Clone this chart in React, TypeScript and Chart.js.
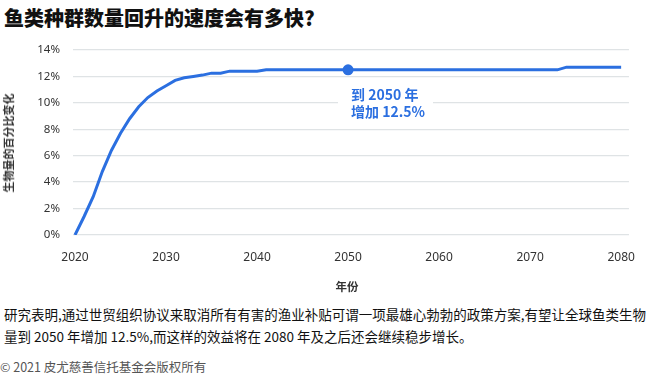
import React, { useEffect, useRef } from "react";
import { Chart, registerables } from "chart.js";

Chart.register(...registerables);

// ---- data ----
const years = [
  2020, 2021, 2022, 2023, 2024, 2025, 2026, 2027, 2028, 2029, 2030,
  2031, 2032, 2033, 2034, 2035, 2036, 2037, 2038, 2039, 2040,
  2041, 2042, 2043, 2044, 2045, 2046, 2047, 2048, 2049, 2050,
  2051, 2052, 2053, 2054, 2055, 2056, 2057, 2058, 2059, 2060,
  2061, 2062, 2063, 2064, 2065, 2066, 2067, 2068, 2069, 2070,
  2071, 2072, 2073, 2074, 2075, 2076, 2077, 2078, 2079, 2080,
];
const biomassChange = [
  0, 1.4, 2.9, 4.8, 6.4, 7.7, 8.8, 9.7, 10.4, 10.9, 11.3,
  11.7, 11.9, 12.0, 12.1, 12.25, 12.25, 12.4, 12.4, 12.4, 12.4,
  12.5, 12.5, 12.5, 12.5, 12.5, 12.5, 12.5, 12.5, 12.5, 12.5,
  12.5, 12.5, 12.5, 12.5, 12.5, 12.5, 12.5, 12.5, 12.5, 12.5,
  12.5, 12.5, 12.5, 12.5, 12.5, 12.5, 12.5, 12.5, 12.5, 12.5,
  12.5, 12.5, 12.5, 12.7, 12.7, 12.7, 12.7, 12.7, 12.7, 12.7,
];
const highlightYear = [2050];
const highlightValue = [12.5];
const xTickValues = [2020, 2030, 2040, 2050, 2060, 2070, 2080];
const yTickValues = [0, 2, 4, 6, 8, 10, 12, 14];

const title = "鱼类种群数量回升的速度会有多快?";
const yTitle = "生物量的百分比变化";
const xTitle = "年份";
const annotationLines = ["到 2050 年", "增加 12.5%"];
const noteLines = [
  "研究表明,通过世贸组织协议来取消所有有害的渔业补贴可谓一项最雄心勃勃的政策方案,有望让全球鱼类生物",
  "量到 2050 年增加 12.5%,而这样的效益将在 2080 年及之后还会继续稳步增长。",
];
const copyright = "© 2021 皮尤慈善信托基金会版权所有";

const BLUE = "#2b6fe0";
const CJK = "'Noto Sans CJK SC', 'Noto Sans', sans-serif";

export default function App() {
  const ref = useRef<HTMLCanvasElement | null>(null);

  useEffect(() => {
    if (!ref.current) return;
    Chart.defaults.font.family = "'Noto Sans', sans-serif";
    const chart = new Chart(ref.current, {
      type: "line",
      data: {
        datasets: [
          {
            data: years.map((y, i) => ({ x: y, y: biomassChange[i] })),
            borderColor: BLUE,
            borderWidth: 3,
            pointRadius: 0,
            tension: 0,
            fill: false,
          },
          {
            data: highlightYear.map((y, i) => ({ x: y, y: highlightValue[i] })),
            borderColor: BLUE,
            backgroundColor: BLUE,
            pointRadius: 5.5,
            pointBorderWidth: 0,
            showLine: false,
          },
        ],
      },
      options: {
        animation: false,
        responsive: false,
        events: [],
        layout: { padding: { top: 50, right: 10, bottom: 0, left: 0 } },
        plugins: { legend: { display: false }, tooltip: { enabled: false } },
        scales: {
          x: {
            type: "linear",
            min: 2019.78,
            max: 2080.86,
            afterBuildTicks: (s: any) => {
              s.ticks = xTickValues.map((v) => ({ value: v }));
            },
            afterFit: (s: any) => {
              s.height = 65;
            },
            grid: { display: false, drawTicks: false },
            border: { display: false },
            ticks: {
              padding: 15,
              color: "#333",
              font: { size: 12 },
              maxRotation: 0,
              autoSkip: false,
              callback: (v: any) => String(v),
            },
          },
          y: {
            min: 0,
            max: 14,
            afterBuildTicks: (s: any) => {
              s.ticks = yTickValues.map((v) => ({ value: v }));
            },
            afterFit: (s: any) => {
              s.width = 73;
            },
            grid: { color: "#dfe3e5", lineWidth: 1.3, drawTicks: false },
            border: { display: false },
            ticks: {
              padding: 13,
              color: "#333",
              font: { size: 11.5 },
              callback: (v: any) => v + "%",
            },
          },
        },
      },
    });
    return () => chart.destroy();
  }, []);

  return (
    <div
      style={{
        position: "fixed",
        left: 0,
        top: 0,
        width: 650,
        height: 376,
        background: "#fff",
        overflow: "hidden",
        fontFamily: CJK,
      }}
    >
      <div
        style={{
          position: "absolute",
          left: 4,
          top: 8,
          fontSize: 20,
          lineHeight: "20px",
          fontWeight: 900,
          color: "#111",
          whiteSpace: "nowrap",
        }}
      >
        {title}
      </div>
      <canvas
        ref={ref}
        width={650}
        height={300}
        style={{ position: "absolute", left: 0, top: 0 }}
      />
      <div
        style={{
          position: "absolute",
          left: 8,
          top: 143,
          transform: "translate(-50%, -50%) rotate(-90deg)",
          fontSize: 11,
          fontWeight: 700,
          color: "#333",
          whiteSpace: "nowrap",
        }}
      >
        {yTitle}
      </div>
      <div
        style={{
          position: "absolute",
          left: 347,
          top: 286,
          transform: "translate(-50%, -50%)",
          fontSize: 11.5,
          fontWeight: 700,
          color: "#333",
          whiteSpace: "nowrap",
        }}
      >
        {xTitle}
      </div>
      <div
        style={{
          position: "absolute",
          left: 338,
          top: 86,
          width: 82,
          padding: "0 0 0 13px",
          background: "#fff",
          color: BLUE,
          fontSize: 14,
          lineHeight: "17px",
          fontWeight: 700,
          whiteSpace: "nowrap",
        }}
      >
        {annotationLines.map((l, i) => (
          <div key={i}>{l}</div>
        ))}
      </div>
      <div
        style={{
          position: "absolute",
          left: 4,
          top: 303,
          fontSize: 13.5,
          lineHeight: "22px",
          color: "#111",
          whiteSpace: "nowrap",
        }}
      >
        {noteLines.map((l, i) => (
          <div key={i}>{l}</div>
        ))}
      </div>
      <div
        style={{
          position: "absolute",
          left: 0,
          top: 358,
          fontSize: 12.5,
          lineHeight: "18px",
          color: "#555",
          whiteSpace: "nowrap",
        }}
      >
        {copyright}
      </div>
    </div>
  );
}
